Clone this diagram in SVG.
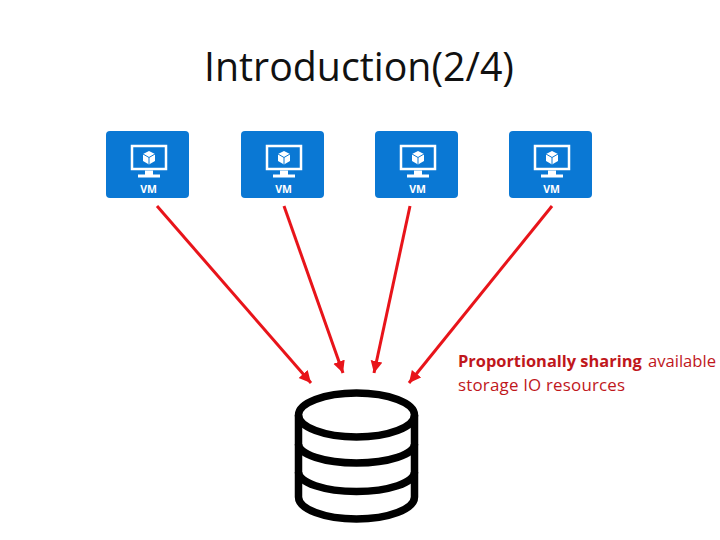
<svg xmlns="http://www.w3.org/2000/svg" xmlns:xlink="http://www.w3.org/1999/xlink" width="720" height="540" viewBox="0 0 720 540">
<style>
text{font-family:"Open Sans","Liberation Sans",sans-serif}
.title{font-size:39.300px;fill:#111}
.note{font-size:16.900px;fill:#c0171c}
.vmt{font-size:10.500px;font-weight:700;fill:#fff;text-anchor:middle}
.conn{stroke:#e8141a;stroke-width:3;fill:none;marker-end:url(#ah)}
.db{fill:none;stroke:#000;stroke-width:7.500}
</style>
<defs>
<marker id="ah" markerUnits="userSpaceOnUse" markerWidth="14" markerHeight="14" refX="12" refY="6" orient="auto"><path d="M0 0L12 6L0 12Z" fill="#e8141a"/></marker>
<g id="vm">
<rect x="0" y="0" width="83" height="67" rx="4" fill="#0a78d4"/>
<rect x="26" y="15" width="34" height="23" fill="none" stroke="#fff" stroke-width="2.500"/>
<path d="M43 20l6 3v7l-6 3.500l-6-3.500v-7z" fill="#fff"/>
<path d="M37 23l6 3.500l6-3.500M43 26.500v7" stroke="#0a78d4" stroke-width="1" fill="none"/>
<path d="M39 39.500h8v4h-8zM32 43.500h22v3h-22z" fill="#fff"/>
<text class="vmt" x="42.500" y="62">VM</text>
</g>
</defs>
<text class="title" x="204" y="81">Introduction(2/4)</text>
<g id="vm1"><use xlink:href="#vm" href="#vm" x="106" y="131"/></g>
<g id="vm2"><use xlink:href="#vm" href="#vm" x="241" y="131"/></g>
<g id="vm3"><use xlink:href="#vm" href="#vm" x="375" y="131"/></g>
<g id="vm4"><use xlink:href="#vm" href="#vm" x="509" y="131"/></g>
<g id="connectors">
<line class="conn" x1="157" y1="206" x2="311" y2="383"/>
<line class="conn" x1="284" y1="206" x2="343" y2="373"/>
<line class="conn" x1="410" y1="206" x2="374" y2="373"/>
<line class="conn" x1="552" y1="206" x2="409" y2="383"/>
</g>
<g id="storage">
<ellipse class="db" cx="356.500" cy="415" rx="58" ry="22"/>
<path class="db" d="M298.500 415V497A58 22 0 0 0 414.500 497V415"/>
<path class="db" d="M298.500 444A58 19 0 0 0 414.500 444"/>
<path class="db" d="M298.500 472A58 19.500 0 0 0 414.500 472"/>
</g>
<g id="note">
<text class="note" x="458" y="367"><tspan font-weight="700" font-size="16.400">Proportionally sharing </tspan><tspan x="648" font-size="16.600">available</tspan></text>
<text class="note" x="458" y="391" letter-spacing="0.200">storage IO resources</text>
</g>
</svg>
